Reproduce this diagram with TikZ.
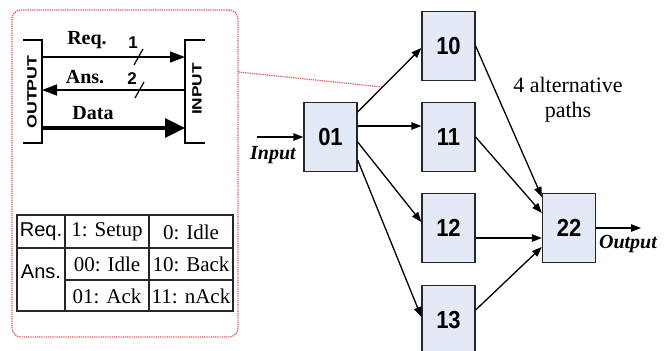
\documentclass[tikz,border=0pt]{standalone}
\usepackage{fontspec}
\setmainfont{Liberation Serif}
\setsansfont{Liberation Sans}
\usetikzlibrary{arrows.meta,calc}
\definecolor{boxfill}{HTML}{E3EAF6}
\definecolor{dotred}{HTML}{E8504F}
\begin{document}
\begin{tikzpicture}[x=1pt,y=-1pt,
  box/.style={draw=black!85, fill=boxfill, line width=1.3pt, minimum width=53pt, minimum height=69pt, inner sep=0pt, font=\sffamily\bfseries\fontsize{22}{22}\selectfont},
  arr/.style={-{Triangle[length=10pt,width=7.5pt]}, line width=1.3pt},
  sarr/.style={-{Triangle[length=15pt,width=11pt]}, line width=1.5pt},
  darr/.style={-{Triangle[length=20pt,width=19pt]}, line width=3.2pt},
  brk/.style={line width=1.5pt},
  lbl/.style={inner sep=0pt, font=\bfseries\fontsize{20}{20}\selectfont},
  num/.style={inner sep=0pt, font=\sffamily\bfseries\fontsize{17}{17}\selectfont},
  side/.style={inner sep=0pt, rotate=90, font=\sffamily\bfseries\fontsize{13.5}{13.5}\selectfont},
  cell/.style={inner sep=0pt, font=\fontsize{21}{21}\selectfont},
  scell/.style={inner sep=0pt, font=\sffamily\fontsize{20}{20}\selectfont},
  io/.style={inner sep=0pt, font=\bfseries\itshape\fontsize{20}{20}\selectfont}
]
\useasboundingbox (0,0) rectangle (670,351);

% zoom panel
\node[draw=dotred, densely dotted, line width=1.2pt, rounded corners=9pt, minimum width=226pt, minimum height=327pt, inner sep=0pt] (panel) at (125,173.5) {};
\coordinate (zoomend) at (382,87);
\draw[dotred, densely dotted, line width=1.2pt] ([yshift=101.5pt]panel.east) -- (zoomend);

% brackets
\coordinate (oT) at (42,40); \coordinate (oB) at (42,143);
\coordinate (iT) at (185,40); \coordinate (iB) at (185,143);
\draw[brk] ([xshift=-19pt]oT) -- (oT) -- (oB) -- ([xshift=-19pt]oB);
\draw[brk] ([xshift=20pt]iT) -- (iT) -- (iB) -- ([xshift=20pt]iB);
\node[side] (outlbl) at (32,92) {\scalebox{1.32}[1]{OUTPUT}};
\node[side] (inlbl) at (197,89) {\scalebox{1.28}[1]{INPUT}};

% signals
\coordinate (reqS) at (42,57); \coordinate (reqE) at (185,57);
\coordinate (ansS) at (185,90); \coordinate (ansE) at (42,90);
\coordinate (datS) at (42,128); \coordinate (datE) at (185,128);
\draw[sarr] (reqS) -- (reqE);
\draw[sarr] (ansS) -- (ansE);
\draw[darr] (datS) -- (datE);
\draw[line width=1.2pt] (134,65) -- (143,49);
\draw[line width=1.2pt] (135,98) -- (144,82);
\node[lbl] (req) at (87,40) {Req.};
\node[num] (one) at (133,43) {1};
\node[lbl] (ans) at (85,77) {Ans.};
\node[num] (two) at (132,79) {2};
\node[lbl] (data) at (93,113) {Data};

% table
\draw[line width=1.3pt, black!85] (17,215) rectangle (233,311);
\draw[line width=1.3pt, black!85] (17,248) -- (233,248);
\draw[line width=1.3pt, black!85] (65,280) -- (233,280);
\draw[line width=1.3pt, black!85] (65,215) -- (65,311);
\draw[line width=1.3pt, black!85] (149,215) -- (149,311);
\node[scell] (treq) at (41,232) {Req.};
\node[cell] (t1) at (107,232) {1: Setup};
\node[cell] (t2) at (191,232) {0: Idle};
\node[scell] (tans) at (41,272) {Ans.};
\node[cell] (t3) at (107,264) {00: Idle};
\node[cell] (t4) at (191,264) {10: Back};
\node[cell] (t5) at (107,296) {01: Ack};
\node[cell] (t6) at (191,296) {11: nAck};

% network
\node[box] (n01) at (330.5,137) {\scalebox{1}[1.12]{01}};
\node[box] (n10) at (448.5,46) {\scalebox{1}[1.12]{10}};
\node[box] (n11) at (448.5,137) {\scalebox{1}[1.12]{11}};
\node[box] (n12) at (448.5,228) {\scalebox{1}[1.12]{12}};
\node[box] (n13) at (448.5,320) {\scalebox{1}[1.12]{13}};
\node[box] (n22) at (569,228) {\scalebox{1}[1.12]{22}};

\coordinate (inS) at (257,137);
\draw[arr] (inS) -- (n01.west);
\node[io] (inlabel) at (273,155) {Input};
\coordinate (outE) at (641,228);
\draw[arr] (n22.east) -- (outE);
\node[io] (outlabel) at (628,244) {Output};

\draw[arr] ([yshift=25pt]n01.east) -- ([yshift=-2pt]n10.west);
\draw[arr] ([yshift=11pt]n01.east) -- ([yshift=11pt]n11.west);
\draw[arr] ([yshift=-5pt]n01.east) -- ([yshift=6pt]n12.west);
\draw[arr] ([yshift=-23pt]n01.east) -- ([yshift=3pt]n13.west);

\draw[arr] (n10.east) -- ([yshift=31pt]n22.west);
\draw[arr] (n11.east) -- ([yshift=15pt]n22.west);
\draw[arr] ([yshift=-10pt]n12.east) -- ([yshift=-10pt]n22.west);
\draw[arr] ([yshift=10pt]n13.east) -- ([yshift=-19pt]n22.west);

\node[align=center, inner sep=0pt, font=\fontsize{22}{25}\selectfont] (alt) at (568,100) {4 alternative\\paths};
\end{tikzpicture}
\end{document}
